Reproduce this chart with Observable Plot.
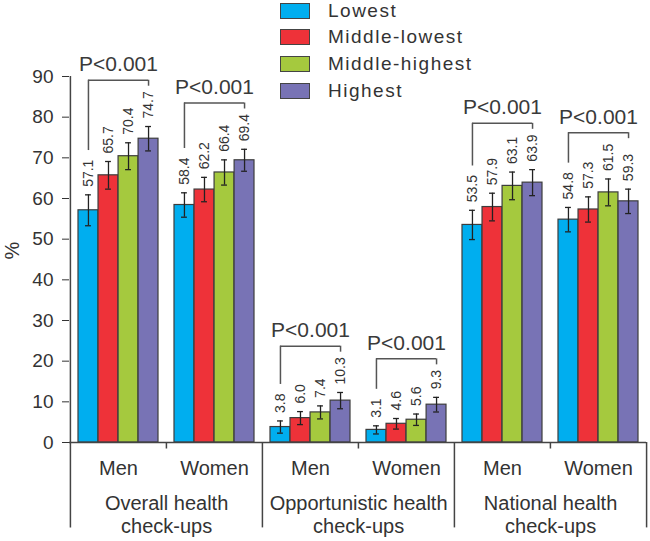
<!DOCTYPE html>
<html>
<head>
<meta charset="utf-8">
<script src="https://cdn.jsdelivr.net/npm/d3@7"></script>
<script src="https://cdn.jsdelivr.net/npm/@observablehq/plot@0.6"></script>
<style>
  body { margin: 0; background: #fff; }
  #wrap { position: relative; width: 650px; height: 541px; font-family: "Liberation Sans", Arial, sans-serif; color: #333; }
  #wrap svg { position: absolute; left: 0; top: 0; }
  #legend { position: absolute; left: 280px; top: 0; z-index: 2; }
  .row { position: absolute; left: 0; display: flex; align-items: center; white-space: nowrap; height: 16px; }
  .sw { width: 28px; height: 14px; border: 1px solid #444; }
  .lab { margin-left: 18px; font-size: 19px; letter-spacing: 1.5px; color: #333; }
</style>
</head>
<body>
<div id="wrap"><div id="legend"></div></div>
<script>
// ---- data ----
const groups = ["Overall health\ncheck-ups", "Opportunistic health\ncheck-ups", "National health\ncheck-ups"];
const sexes = ["Men", "Women"];
const quartiles = ["Lowest", "Middle-lowest", "Middle-highest", "Highest"];
const colors = ["#00AEEF", "#EE3239", "#A5C93E", "#7873B5"];

const overallMen      = [57.1, 65.7, 70.4, 74.7];
const overallWomen    = [58.4, 62.2, 66.4, 69.4];
const opportMen       = [3.8, 6.0, 7.4, 10.3];
const opportWomen     = [3.1, 4.6, 5.6, 9.3];
const nationalMen     = [53.5, 57.9, 63.1, 63.9];
const nationalWomen   = [54.8, 57.3, 61.5, 59.3];

// half-width of the 95% CI error bars (estimated)
const overallMenCI    = [3.8, 3.4, 3.3, 3.0];
const overallWomenCI  = [3.0, 3.0, 3.1, 2.7];
const opportMenCI     = [1.5, 1.6, 1.6, 2.0];
const opportWomenCI   = [1.0, 1.3, 1.4, 1.8];
const nationalMenCI   = [3.6, 3.4, 3.4, 3.2];
const nationalWomenCI = [3.0, 3.1, 3.3, 3.0];

const pLabels = ["P<0.001", "P<0.001", "P<0.001", "P<0.001", "P<0.001", "P<0.001"];
const yTicks = [0, 10, 20, 30, 40, 50, 60, 70, 80, 90];
const yLabel = "%";

// ---- build tables ----
const valueSets = [overallMen, overallWomen, opportMen, opportWomen, nationalMen, nationalWomen];
const ciSets = [overallMenCI, overallWomenCI, opportMenCI, opportWomenCI, nationalMenCI, nationalWomenCI];
const keys = [];
groups.forEach((g, gi) => sexes.forEach((s, si) => keys.push(gi + "|" + s)));
const sexOf = k => k.split("|")[1];
const groupOf = k => groups[+k.split("|")[0]];
const menKeys = keys.filter(k => sexOf(k) === "Men");
const womenKeys = keys.filter(k => sexOf(k) === "Women");

const W = 650, H = 541, mL = 69, mR = 4, mT = 76, mB = 99;
const padIn = 1 / 6, padOut = 1 / 12;
const band = d3.scaleBand(keys, [mL, W - mR]).paddingInner(padIn).paddingOuter(padOut);
const bw = band.bandwidth(), gap = band.step() - bw;
const barW = bw / quartiles.length;
const k = (H - mT - mB) / 90; // px per unit

const rows = [];
keys.forEach((key, si) => {
  quartiles.forEach((q, qi) => {
    const v = valueSets[si][qi], c = ciSets[si][qi];
    rows.push({key, q, qi, value: v, lo: v - c, hi: v + c, label: v.toFixed(1)});
  });
});

const labelLen = s => (s.length - 1) * 7.8 + 3.9;
const brackets = keys.map((key, si) => {
  const r = rows.filter(d => d.key === key);
  const tops = r.map(d => d.hi + (8 + labelLen(d.label)) / k);
  const top = d3.max(tops) + 11 / k;
  return {key, top, leftBottom: tops[0] + 9 / k, rightBottom: top - 6 / k, p: pLabels[si]};
});

// ---- marks ----
const ink = "#333";
const marks = [];
quartiles.forEach((q, i) => {
  const off = (i - (quartiles.length - 1) / 2) * barW;
  const d = rows.filter(r => r.qi === i);
  marks.push(Plot.barY(d, {x: "key", y: "value", fill: colors[i], stroke: "#3d3d3d", strokeWidth: 1.2,
    insetLeft: i * barW, insetRight: (quartiles.length - 1 - i) * barW}));
  marks.push(Plot.ruleX(d, {x: "key", y1: "lo", y2: "hi", dx: off, stroke: "#222", strokeWidth: 1.3}));
  marks.push(Plot.tickY(d, {x: "key", y: "lo", dx: off, insetLeft: bw / 2 - 3, insetRight: bw / 2 - 3, stroke: "#222", strokeWidth: 1.3}));
  marks.push(Plot.tickY(d, {x: "key", y: "hi", dx: off, insetLeft: bw / 2 - 3, insetRight: bw / 2 - 3, stroke: "#222", strokeWidth: 1.3}));
  marks.push(Plot.text(d, {x: "key", y: "hi", dx: off, dy: -8, rotate: -90, textAnchor: "start", text: "label", fontSize: 14, fill: ink}));
});

// brackets
const bStroke = {stroke: "#555", strokeWidth: 1.5};
marks.push(Plot.tickY(brackets, {x: "key", y: "top", insetLeft: barW / 2, insetRight: barW / 2, ...bStroke}));
marks.push(Plot.ruleX(brackets, {x: "key", y1: "top", y2: "leftBottom", dx: -1.5 * barW, ...bStroke}));
marks.push(Plot.ruleX(brackets, {x: "key", y1: "top", y2: "rightBottom", dx: 1.5 * barW, ...bStroke}));
marks.push(Plot.text(brackets, {x: "key", y: "top", text: "p", dy: -9, lineAnchor: "bottom", fontSize: 21, fill: "#3a3a3a"}));

// axes lines and separators
const edge = bw / 2 + gap / 2;
marks.push(Plot.ruleY([0], {stroke: "#444", strokeWidth: 1.5}));
marks.push(Plot.ruleX(menKeys.map((key, i) => ({key, y1: i === 0 ? 90 : 0})), {x: "key", y1: "y1", y2: -21, dx: -edge, stroke: "#444", strokeWidth: 1.5}));
marks.push(Plot.ruleX(womenKeys.slice(-1), {x: d => d, y1: 0, y2: -21, dx: edge, stroke: "#444", strokeWidth: 1.5}));
marks.push(Plot.ruleX(womenKeys, {x: d => d, y1: 0, y2: -1.6, dx: -edge, stroke: "#444", strokeWidth: 1.5}));

// category labels
marks.push(Plot.text(keys, {x: d => d, text: d => sexOf(d), frameAnchor: "bottom", lineAnchor: "top", dy: 18, fontSize: 20, fill: ink}));
marks.push(Plot.text(menKeys, {x: d => d, text: d => groupOf(d), frameAnchor: "bottom", lineAnchor: "top", dx: edge, dy: 51, fontSize: 20, lineHeight: 1.15, fill: ink}));
marks.push(Plot.text([yLabel], {text: d => d, frameAnchor: "left", dx: -57, rotate: -90, fontSize: 20, fill: ink}));

const chart = Plot.plot({
  width: W, height: H,
  marginLeft: mL, marginRight: mR, marginTop: mT, marginBottom: mB,
  style: {fontFamily: "'Liberation Sans', Arial, sans-serif", fontSize: "19px", color: ink, background: "#fff"},
  x: {type: "band", domain: keys, paddingInner: padIn, paddingOuter: padOut, axis: null},
  y: {domain: [0, 90], ticks: yTicks, tickSize: 7, tickPadding: 9, label: null},
  marks
});
const wrap = document.getElementById("wrap");
wrap.insertBefore(chart, wrap.firstChild);

// legend
const legend = document.getElementById("legend");
quartiles.forEach((q, i) => {
  const row = document.createElement("div");
  row.className = "row";
  row.style.top = (2.7 + i * 26.7) + "px";
  const sw = document.createElement("div");
  sw.className = "sw";
  sw.style.background = colors[i];
  const lab = document.createElement("span");
  lab.className = "lab";
  lab.textContent = q;
  row.appendChild(sw); row.appendChild(lab);
  legend.appendChild(row);
});
</script>
</body>
</html>
